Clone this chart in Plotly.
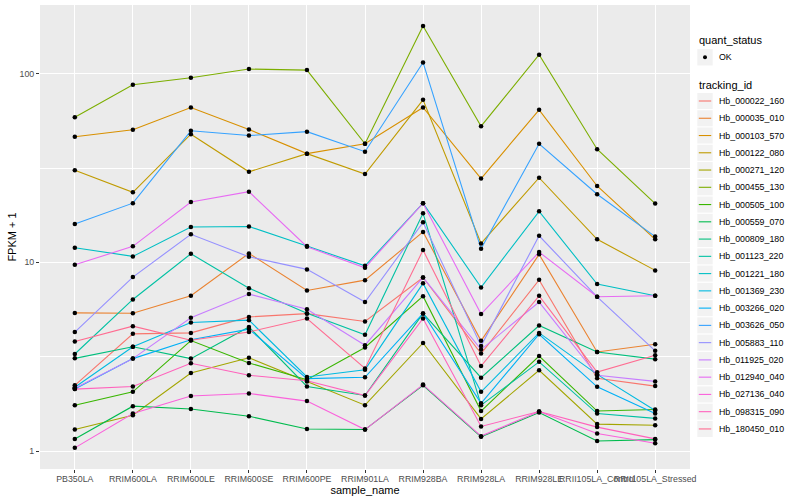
import plotly.graph_objects as go

samples = ["PB350LA", "RRIM600LA", "RRIM600LE", "RRIM600SE", "RRIM600PE", "RRIM901LA",
           "RRIM928BA", "RRIM928LA", "RRIM928LE", "RRII105LA_Control", "RRII105LA_Stressed"]

tracking_ids = ["Hb_000022_160", "Hb_000035_010", "Hb_000103_570", "Hb_000122_080", "Hb_000271_120",
                "Hb_000455_130", "Hb_000505_100", "Hb_000559_070", "Hb_000809_180", "Hb_001123_220",
                "Hb_001221_180", "Hb_001369_230", "Hb_003266_020", "Hb_003626_050", "Hb_005883_110",
                "Hb_011925_020", "Hb_012940_040", "Hb_027136_040", "Hb_098315_090", "Hb_180450_010"]

hb_000022_160 = [2.23, 4.18, 4.23, 5.14, 5.35, 4.86, 8.32, 3.29, 8.08, 2.43, 2.21]
hb_000035_010 = [5.40, 5.38, 6.65, 11.16, 7.10, 8.05, 14.5, 3.84, 11.03, 3.35, 3.68]
hb_000103_570 = [46.3, 50.4, 66.2, 50.6, 37.7, 42.5, 66.2, 27.8, 64.3, 25.4, 13.25]
hb_000122_080 = [30.8, 23.5, 47.8, 30.2, 37.7, 29.4, 72.7, 12.6, 28.1, 13.25, 9.07]
hb_000271_120 = [1.30, 1.55, 2.59, 3.12, 2.34, 1.75, 3.74, 1.48, 2.68, 1.39, 1.37]
hb_000455_130 = [58.8, 87.3, 95.1, 105.8, 104.5, 42.5, 178.9, 52.7, 126.0, 39.8, 20.5]
hb_000505_100 = [1.75, 2.06, 3.85, 2.93, 2.39, 3.54, 6.62, 1.63, 3.19, 1.63, 1.66]
hb_000559_070 = [1.16, 1.73, 1.67, 1.53, 1.31, 1.30, 2.23, 1.19, 1.60, 1.13, 1.15]
hb_000809_180 = [3.10, 3.57, 3.09, 4.55, 2.20, 1.97, 5.36, 2.45, 4.63, 3.35, 3.07]
hb_001123_220 = [3.27, 6.36, 11.11, 7.30, 5.38, 4.13, 18.2, 1.75, 2.97, 1.58, 1.49]
hb_001221_180 = [11.96, 10.76, 15.4, 15.5, 12.2, 9.59, 20.6, 7.37, 18.65, 7.67, 6.65]
hb_001369_230 = [2.18, 3.57, 4.80, 4.94, 2.47, 2.70, 7.74, 2.06, 4.23, 2.55, 1.64]
hb_003266_020 = [2.13, 3.09, 3.89, 4.43, 2.42, 2.46, 5.36, 1.79, 4.16, 2.19, 1.58]
hb_003626_050 = [15.97, 20.6, 49.8, 47.0, 49.3, 38.6, 114.7, 11.8, 42.5, 22.96, 13.7]
hb_005883_110 = [4.27, 8.36, 14.08, 10.71, 9.18, 6.16, 16.3, 3.61, 13.84, 6.57, 3.40]
hb_011925_020 = [2.15, 3.09, 5.09, 6.79, 5.65, 3.64, 8.32, 3.45, 6.16, 2.52, 2.34]
hb_012940_040 = [9.71, 12.16, 20.9, 23.7, 12.1, 9.36, 20.6, 5.32, 11.34, 6.57, 6.65]
hb_027136_040 = [1.04, 1.58, 1.96, 2.02, 1.84, 1.30, 2.25, 1.20, 1.62, 1.24, 1.10]
hb_098315_090 = [2.13, 2.20, 2.92, 2.52, 2.36, 1.97, 5.04, 1.35, 1.62, 1.34, 1.16]
hb_180450_010 = [3.81, 4.59, 3.87, 4.28, 5.04, 2.74, 11.62, 2.82, 6.65, 2.62, 3.22]

series_values = [hb_000022_160, hb_000035_010, hb_000103_570, hb_000122_080, hb_000271_120,
                 hb_000455_130, hb_000505_100, hb_000559_070, hb_000809_180, hb_001123_220,
                 hb_001221_180, hb_001369_230, hb_003266_020, hb_003626_050, hb_005883_110,
                 hb_011925_020, hb_012940_040, hb_027136_040, hb_098315_090, hb_180450_010]

colors = ["#F8766D", "#EA8331", "#D89000", "#C09B00", "#A3A500", "#7CAE00", "#39B600", "#00BB4E",
          "#00BF7D", "#00C1A3", "#00BFC4", "#00BAE0", "#00B0F6", "#35A2FF", "#9590FF", "#C77CFF",
          "#E76BF3", "#FA62DB", "#FF62BC", "#FF6C91"]

quant_status = ["OK"]

y_ticks = [1, 10, 100]
y_tick_labels = ["1", "10", "100"]
y_minor = [10 ** 0.5, 10 ** 1.5]

FONT = "Liberation Sans, Arial, Helvetica, sans-serif"

W, H = 800, 500
ML, MR, MT, MB = 40, 110, 5, 31
PW, PH = W - ML - MR, H - MT - MB


def px_x(p):
    return (p - ML) / PW


def px_y(p):
    return (H - MB - p) / PH


fig = go.Figure()

for tid, vals, col in zip(tracking_ids, series_values, colors):
    fig.add_trace(go.Scatter(
        x=samples, y=vals, mode="lines", name=tid,
        line=dict(color=col, width=1.1),
        showlegend=False,
    ))

all_x = [s for _ in series_values for s in samples]
all_y = [v for vals in series_values for v in vals]
fig.add_trace(go.Scatter(
    x=all_x, y=all_y, mode="markers", name=quant_status[0],
    marker=dict(color="black", size=4.5, symbol="circle"),
    showlegend=False,
))

# ---- ggplot-style legend (layout decoration) ----
shapes = []
annotations = []
LX0, KEY = 697.3, 15.4
ITEM_H = 17.26

annotations.append(dict(x=px_x(LX0), y=px_y(40), xref="paper", yref="paper", text="quant_status",
                        showarrow=False, xanchor="left", yanchor="middle",
                        font=dict(size=11, color="black", family=FONT)))
qy = 57.3
shapes.append(dict(type="rect", xref="paper", yref="paper",
                   x0=px_x(LX0), x1=px_x(LX0 + KEY), y0=px_y(qy - ITEM_H / 2 + 0.5), y1=px_y(qy + ITEM_H / 2 - 0.5),
                   fillcolor="#F2F2F2", line=dict(width=0), layer="below"))
shapes.append(dict(type="circle", xref="paper", yref="paper",
                   x0=px_x(LX0 + KEY / 2 - 2), x1=px_x(LX0 + KEY / 2 + 2), y0=px_y(qy - 2), y1=px_y(qy + 2),
                   fillcolor="black", line=dict(width=0)))
annotations.append(dict(x=px_x(717), y=px_y(qy), xref="paper", yref="paper", text=quant_status[0],
                        showarrow=False, xanchor="left", yanchor="middle",
                        font=dict(size=8.8, color="black", family=FONT)))

annotations.append(dict(x=px_x(LX0), y=px_y(84.5), xref="paper", yref="paper", text="tracking_id",
                        showarrow=False, xanchor="left", yanchor="middle",
                        font=dict(size=11, color="black", family=FONT)))
for i, (tid, col) in enumerate(zip(tracking_ids, colors)):
    cy = 101.0 + ITEM_H * i
    shapes.append(dict(type="rect", xref="paper", yref="paper",
                       x0=px_x(LX0), x1=px_x(LX0 + KEY), y0=px_y(cy - ITEM_H / 2 + 0.6), y1=px_y(cy + ITEM_H / 2 - 0.6),
                       fillcolor="#F2F2F2", line=dict(width=0), layer="below"))
    shapes.append(dict(type="line", xref="paper", yref="paper",
                       x0=px_x(LX0 + 1.5), x1=px_x(LX0 + KEY - 1.5), y0=px_y(cy), y1=px_y(cy),
                       line=dict(color=col, width=1.1)))
    annotations.append(dict(x=px_x(717), y=px_y(cy), xref="paper", yref="paper", text=tid,
                            showarrow=False, xanchor="left", yanchor="middle",
                            font=dict(size=8.8, color="black", family=FONT)))

fig.update_layout(
    width=W, height=H,
    margin=dict(l=ML, r=MR, t=MT, b=MB, pad=0, autoexpand=False),
    paper_bgcolor="white",
    plot_bgcolor="#EBEBEB",
    font=dict(family=FONT, size=8.8, color="#4D4D4D"),
    showlegend=False,
    shapes=shapes,
    annotations=annotations,
    xaxis=dict(
        type="category", categoryorder="array", categoryarray=samples,
        range=[-0.6, 10.6], showgrid=True, gridcolor="white", gridwidth=1.1,
        zeroline=False, showline=False, automargin=False,
        ticks="outside", ticklen=3, tickcolor="#333333", tickwidth=1,
        ticklabelstandoff=-2,
        tickangle=0, tickfont=dict(size=8.8, color="#4D4D4D"),
        title=dict(text="sample_name", font=dict(size=11, color="black"), standoff=0),
    ),
    yaxis=dict(
        type="log", range=[-0.095, 2.364],
        tickvals=y_ticks, ticktext=y_tick_labels,
        showgrid=True, gridcolor="white", gridwidth=1.1,
        minor=dict(tickvals=y_minor, showgrid=True, gridcolor="white", gridwidth=0.55, ticks=""),
        zeroline=False, showline=False, automargin=False,
        ticks="outside", ticklen=3, tickcolor="#333333", tickwidth=1,
        tickfont=dict(size=8.8, color="#4D4D4D"),
        title=dict(text="FPKM + 1", font=dict(size=11, color="black"), standoff=0),
    ),
)

fig.write_html("out.html",
               config={"displayModeBar": False},
               post_script="document.body.style.margin='0';document.body.style.padding='0';")
